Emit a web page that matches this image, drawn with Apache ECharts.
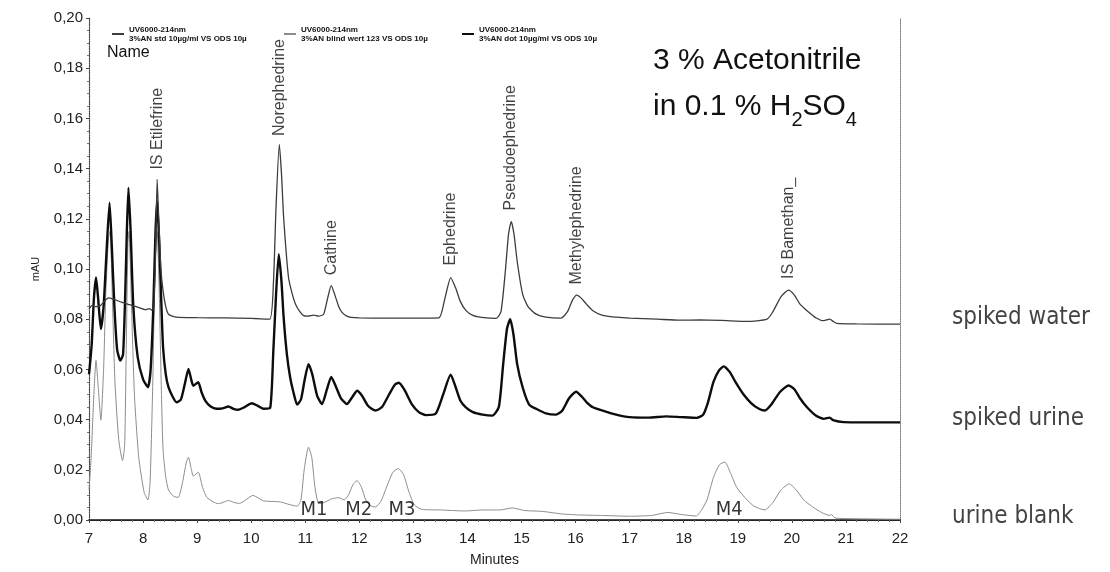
<!DOCTYPE html>
<html><head><meta charset="utf-8">
<script src="https://cdn.jsdelivr.net/npm/echarts@6/dist/echarts.min.js"></script>
<style>html,body{margin:0;padding:0;background:#fff}#c{width:1110px;height:572px}</style>
</head><body><div id="c"></div>
<script>
// ---- data (minutes, mAU) ----
const spikedWater = [[7.00,0.0840],[7.06,0.0855],[7.12,0.0850],[7.20,0.0852],[7.28,0.0870],[7.36,0.0885],[7.45,0.0880],[7.60,0.0868],[7.75,0.0858],[7.90,0.0848],[8.05,0.0838],[8.12,0.0842],[8.17,0.0835],[8.20,0.0850],[8.23,0.1050],[8.26,0.1357],[8.29,0.1200],[8.33,0.1000],[8.37,0.0913],[8.42,0.0850],[8.47,0.0820],[8.62,0.0808],[9.00,0.0806],[9.50,0.0805],[10.00,0.0803],[10.34,0.0800],[10.41,0.0940],[10.46,0.1250],[10.52,0.1496],[10.56,0.1380],[10.60,0.1205],[10.69,0.0966],[10.76,0.0900],[10.82,0.0860],[10.90,0.0830],[10.97,0.0814],[11.05,0.0812],[11.15,0.0816],[11.25,0.0812],[11.34,0.0820],[11.41,0.0880],[11.48,0.0934],[11.55,0.0895],[11.62,0.0850],[11.68,0.0827],[11.77,0.0812],[11.85,0.0807],[12.00,0.0805],[12.50,0.0804],[13.00,0.0804],[13.47,0.0805],[13.58,0.0880],[13.69,0.0966],[13.78,0.0925],[13.87,0.0870],[13.97,0.0835],[14.10,0.0815],[14.30,0.0806],[14.53,0.0803],[14.62,0.0830],[14.70,0.0990],[14.76,0.1140],[14.81,0.1189],[14.86,0.1140],[14.92,0.1030],[15.02,0.0900],[15.12,0.0850],[15.27,0.0820],[15.45,0.0808],[15.73,0.0804],[15.85,0.0830],[15.94,0.0875],[16.02,0.0896],[16.10,0.0885],[16.20,0.0860],[16.32,0.0834],[16.50,0.0815],[16.75,0.0808],[17.00,0.0804],[17.50,0.0800],[17.93,0.0796],[18.30,0.0797],[18.70,0.0795],[19.17,0.0791],[19.54,0.0800],[19.65,0.0830],[19.80,0.0890],[19.94,0.0916],[20.05,0.0895],[20.15,0.0860],[20.28,0.0834],[20.45,0.0805],[20.59,0.0794],[20.70,0.0800],[20.76,0.0792],[20.83,0.0783],[21.20,0.0781],[22.00,0.0780]];

const spikedUrine = [[7.00,0.0580],[7.05,0.0700],[7.09,0.0880],[7.13,0.0966],[7.17,0.0880],[7.22,0.0761],[7.27,0.0850],[7.32,0.1050],[7.38,0.1264],[7.42,0.1100],[7.47,0.0850],[7.52,0.0680],[7.58,0.0635],[7.63,0.0660],[7.67,0.0900],[7.70,0.1150],[7.73,0.1324],[7.77,0.1150],[7.82,0.0850],[7.90,0.0650],[8.00,0.0560],[8.09,0.0529],[8.14,0.0600],[8.19,0.0850],[8.23,0.1150],[8.26,0.1270],[8.30,0.1100],[8.34,0.0850],[8.37,0.0688],[8.42,0.0580],[8.47,0.0529],[8.55,0.0490],[8.62,0.0469],[8.70,0.0480],[8.77,0.0540],[8.84,0.0602],[8.89,0.0560],[8.93,0.0535],[9.02,0.0549],[9.08,0.0510],[9.15,0.0476],[9.25,0.0452],[9.36,0.0443],[9.47,0.0445],[9.58,0.0452],[9.67,0.0443],[9.76,0.0439],[9.88,0.0450],[10.01,0.0465],[10.12,0.0455],[10.23,0.0443],[10.35,0.0446],[10.41,0.0676],[10.46,0.0900],[10.51,0.1059],[10.56,0.0950],[10.60,0.0807],[10.66,0.0660],[10.72,0.0569],[10.78,0.0510],[10.85,0.0460],[10.92,0.0480],[10.99,0.0560],[11.06,0.0621],[11.13,0.0580],[11.22,0.0495],[11.31,0.0462],[11.40,0.0520],[11.48,0.0570],[11.56,0.0535],[11.66,0.0485],[11.77,0.0462],[11.87,0.0490],[11.96,0.0515],[12.05,0.0495],[12.16,0.0455],[12.30,0.0436],[12.42,0.0450],[12.55,0.0500],[12.66,0.0540],[12.73,0.0547],[12.83,0.0520],[12.97,0.0462],[13.10,0.0430],[13.23,0.0418],[13.41,0.0423],[13.55,0.0500],[13.69,0.0579],[13.78,0.0530],[13.87,0.0475],[13.97,0.0449],[14.10,0.0430],[14.28,0.0420],[14.46,0.0416],[14.58,0.0450],[14.66,0.0620],[14.73,0.0760],[14.79,0.0800],[14.85,0.0740],[14.92,0.0620],[15.02,0.0529],[15.14,0.0460],[15.27,0.0443],[15.45,0.0425],[15.64,0.0420],[15.75,0.0435],[15.88,0.0485],[16.01,0.0511],[16.12,0.0490],[16.20,0.0470],[16.32,0.0449],[16.50,0.0436],[16.75,0.0420],[17.00,0.0410],[17.35,0.0408],[17.68,0.0413],[17.95,0.0410],[18.24,0.0407],[18.36,0.0420],[18.45,0.0470],[18.55,0.0550],[18.65,0.0595],[18.74,0.0612],[18.85,0.0590],[18.97,0.0545],[19.10,0.0502],[19.25,0.0465],[19.40,0.0442],[19.50,0.0436],[19.62,0.0460],[19.78,0.0510],[19.94,0.0536],[20.05,0.0520],[20.15,0.0485],[20.28,0.0449],[20.45,0.0415],[20.59,0.0403],[20.70,0.0408],[20.76,0.0398],[20.96,0.0390],[21.50,0.0389],[22.00,0.0389]];

const urineBlank = [[7.00,0.0120],[7.04,0.0250],[7.09,0.0500],[7.13,0.0636],[7.17,0.0530],[7.22,0.0398],[7.27,0.0600],[7.31,0.0900],[7.36,0.1120],[7.39,0.1150],[7.43,0.0900],[7.48,0.0550],[7.55,0.0320],[7.62,0.0237],[7.66,0.0300],[7.69,0.0700],[7.72,0.1100],[7.74,0.1150],[7.78,0.0900],[7.84,0.0500],[7.92,0.0250],[8.02,0.0110],[8.09,0.0080],[8.13,0.0150],[8.18,0.0550],[8.22,0.1000],[8.26,0.1150],[8.30,0.0900],[8.34,0.0500],[8.37,0.0280],[8.42,0.0170],[8.47,0.0120],[8.56,0.0095],[8.65,0.0090],[8.73,0.0150],[8.80,0.0230],[8.84,0.0250],[8.89,0.0205],[8.93,0.0175],[9.02,0.0190],[9.10,0.0130],[9.18,0.0090],[9.30,0.0072],[9.39,0.0065],[9.48,0.0070],[9.58,0.0078],[9.68,0.0070],[9.78,0.0066],[9.90,0.0080],[10.03,0.0098],[10.13,0.0088],[10.23,0.0076],[10.38,0.0074],[10.54,0.0072],[10.70,0.0062],[10.85,0.0055],[10.92,0.0080],[10.98,0.0200],[11.06,0.0290],[11.12,0.0250],[11.18,0.0130],[11.25,0.0065],[11.35,0.0070],[11.50,0.0085],[11.62,0.0089],[11.72,0.0080],[11.80,0.0100],[11.88,0.0140],[11.96,0.0157],[12.04,0.0130],[12.12,0.0080],[12.22,0.0055],[12.30,0.0052],[12.40,0.0075],[12.52,0.0140],[12.62,0.0190],[12.72,0.0205],[12.82,0.0180],[12.92,0.0110],[13.02,0.0060],[13.16,0.0042],[13.50,0.0040],[13.95,0.0036],[14.30,0.0040],[14.60,0.0040],[14.83,0.0048],[15.05,0.0038],[15.40,0.0034],[15.75,0.0024],[16.07,0.0020],[16.50,0.0018],[17.00,0.0015],[17.40,0.0018],[17.71,0.0030],[17.95,0.0022],[18.23,0.0016],[18.33,0.0040],[18.43,0.0080],[18.55,0.0170],[18.66,0.0220],[18.76,0.0231],[18.86,0.0190],[18.98,0.0130],[19.14,0.0087],[19.30,0.0055],[19.50,0.0040],[19.65,0.0070],[19.80,0.0120],[19.95,0.0144],[20.08,0.0120],[20.22,0.0080],[20.38,0.0053],[20.55,0.0030],[20.70,0.0018],[20.73,0.0022],[20.80,0.0008],[21.20,0.0005],[22.00,0.0003]];

const peakNames = ['IS Etilefrine','Norephedrine','Cathine','Ephedrine','Pseudoephedrine','Methylephedrine','IS Bamethan_'];
const peakTimes = [8.26,10.52,11.49,13.69,14.80,16.01,19.94];
const peakLabelLevels = [0.1396,0.1530,0.0975,0.1014,0.1233,0.0938,0.0960];

const metaboliteNames = ['M1','M2','M3','M4'];
const metaboliteTimes = [11.16,11.99,12.79,18.84];
const metaboliteLevels = [0.0040,0.0040,0.0040,0.0040];

const traceNames = ['spiked water','spiked urine','urine blank'];
const traceLevels = [0.0804,0.0404,0.0012];

const legendNames = ['UV6000-214nm\n3%AN std 10µg/ml VS ODS 10µ','UV6000-214nm\n3%AN blind wert 123 VS ODS 10µ','UV6000-214nm\n3%AN dot 10µg/ml VS ODS 10µ'];

const titleLines = ['3 % Acetonitrile','in 0.1 % H{s|2}SO{s|4}'];
// ------------------------------------------------------------------

const FONT = "'Liberation Sans', Arial, Helvetica, sans-serif";
const COND = "'DejaVu Sans Condensed', 'Liberation Sans Narrow', 'DejaVu Sans', sans-serif";
const chart = echarts.init(document.getElementById('c'), null, {renderer:'canvas'});

const legendBase = {
  orient:'horizontal', top:20, itemWidth:12, itemHeight:2, itemGap:4, icon:'rect',
  textStyle:{fontSize:8, fontWeight:'bold', lineHeight:9, color:'#111', fontFamily:FONT},
  selectedMode:false
};

chart.setOption({
  animation:false,
  backgroundColor:'#fff',
  textStyle:{fontFamily:FONT},
  title:{
    text:titleLines.join('\n'), left:648, top:33,
    textStyle:{fontSize:30, lineHeight:46, fontWeight:'normal', color:'#111', fontFamily:FONT,
      rich:{s:{fontSize:20, lineHeight:20, verticalAlign:'bottom', color:'#111', fontFamily:FONT}}}
  },
  legend:[
    Object.assign({}, legendBase, {left:107, data:[legendNames[0]]}),
    Object.assign({}, legendBase, {left:279, data:[legendNames[1]]}),
    Object.assign({}, legendBase, {left:457, data:[legendNames[2]]})
  ],
  grid:{left:89, right:210, top:18, bottom:49},
  xAxis:[{
    type:'value', min:7, max:22, interval:1,
    name:'Minutes', nameLocation:'middle', nameGap:33,
    nameTextStyle:{fontSize:14, color:'#222', fontFamily:FONT},
    axisLine:{show:true, onZero:false, lineStyle:{color:'#444', type:'dotted', width:1.2}},
    axisTick:{show:true, length:3, lineStyle:{color:'#444'}},
    minorTick:{show:true, splitNumber:5, length:2, lineStyle:{color:'#666'}},
    axisLabel:{fontSize:15, color:'#222', margin:11, fontFamily:FONT},
    splitLine:{show:false}
  },{
    type:'value', min:7, max:22, position:'top',
    axisLine:{show:true, lineStyle:{color:'#111', width:1.5}},
    axisTick:{show:false}, axisLabel:{show:false}, splitLine:{show:false}
  }],
  yAxis:[{
    type:'value', min:0, max:0.2, interval:0.02,
    name:'mAU', nameLocation:'middle', nameGap:48, nameRotate:90,
    nameTextStyle:{fontSize:11, color:'#222', fontFamily:FONT},
    axisLine:{show:true, onZero:false, lineStyle:{color:'#444', type:'dotted', width:1.2}},
    axisTick:{show:true, length:3, lineStyle:{color:'#444'}},
    minorTick:{show:true, splitNumber:4, length:2, lineStyle:{color:'#777'}},
    axisLabel:{fontSize:15, color:'#222', margin:6, fontFamily:FONT,
      formatter:v=>v.toFixed(2).replace('.', ',')},
    splitLine:{show:false}
  },{
    type:'value', min:0, max:0.2, position:'right',
    axisLine:{show:true, lineStyle:{color:'#777', type:'dotted', width:1}},
    axisTick:{show:false}, axisLabel:{show:false}, splitLine:{show:false}
  }],
  series:[
    {name:legendNames[1], type:'line', data:urineBlank, symbol:'none', smooth:0.2,
      lineStyle:{color:'#8c8c8c', width:1}, itemStyle:{color:'#8c8c8c'}, z:2},
    {name:legendNames[2], type:'line', data:spikedUrine, symbol:'none', smooth:0.2,
      lineStyle:{color:'#0d0d0d', width:2.4}, itemStyle:{color:'#0d0d0d'}, z:3},
    {name:legendNames[0], type:'line', data:spikedWater, symbol:'none', smooth:0.2,
      lineStyle:{color:'#3c3c3c', width:1.3}, itemStyle:{color:'#3c3c3c'}, z:4},
    {type:'scatter', symbolSize:0, silent:true, z:5,
      data:peakTimes.map((t,i)=>({value:[t, peakLabelLevels[i]], name:peakNames[i]})),
      label:{show:true, position:'inside', rotate:90, align:'left', verticalAlign:'middle',
        formatter:p=>p.name, fontSize:16, color:'#111', fontFamily:FONT}},
    {type:'scatter', symbolSize:0, silent:true, z:5,
      data:metaboliteTimes.map((t,i)=>({value:[t, metaboliteLevels[i]], name:metaboliteNames[i]})),
      label:{show:true, position:'inside', align:'center', verticalAlign:'middle',
        formatter:p=>p.name, fontSize:20, color:'#000', fontFamily:COND}},
    {type:'scatter', symbolSize:0, silent:true, clip:false, z:5,
      data:traceNames.map((n,i)=>({value:[22, traceLevels[i]], name:n})),
      label:{show:true, position:'right', distance:52, align:'left', verticalAlign:'middle',
        formatter:p=>p.name, fontSize:24, color:'#111', fontFamily:COND}}
  ],
  graphic:[{type:'text', left:107, top:45, style:{text:'Name', fontSize:16, fill:'#111', fontFamily:FONT}}]
});
</script></body></html>
